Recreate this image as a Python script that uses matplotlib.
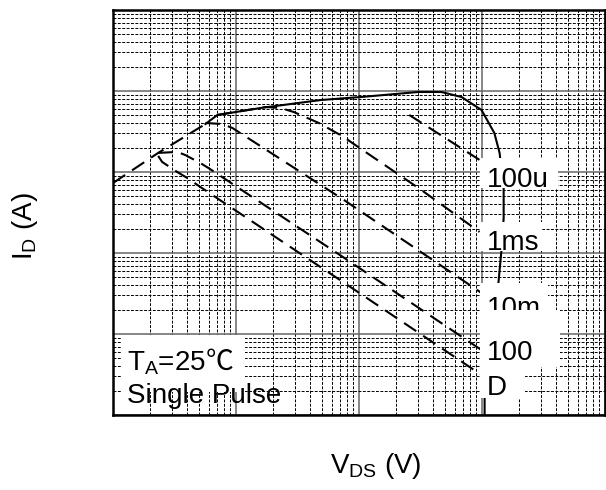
import matplotlib.pyplot as plt
from matplotlib.patches import Rectangle

plt.rcParams['font.family'] = ['Liberation Sans', 'DejaVu Sans']
plt.rcParams['mathtext.fontset'] = 'custom'
plt.rcParams['mathtext.rm'] = 'Liberation Sans'
plt.rcParams['mathtext.it'] = 'Liberation Sans'

# safe operating area, VDS in V, ID in A
rds_v = [0.01, 0.0233, 0.0564]
rds_i = [0.731, 1.72, 3.91]

# 100us limit including the breakdown edge
us100_v = [0.0564, 0.0706, 0.1585, 0.490, 1.038, 3.03, 4.67, 6.81, 9.91,
           12.6, 13.9, 15.0, 15.0, 14.4, 13.6, 12.6, 12.2, 10.5, 10.5]
us100_i = [3.91, 5.06, 6.17, 7.74, 8.43, 9.72, 9.72, 8.43, 5.83,
           3.03, 1.72, 0.634, 0.270, 0.109, 0.0427, 0.0198, 0.0122, 0.00162, 0.0009]

us100d_v = [2.56, 9.55]
us100d_i = [5.06, 1.41]

ms1_v = [0.0706, 0.174, 0.231, 0.295, 0.471, 0.755, 0.861, 3.21, 9.55]
ms1_i = [5.06, 6.34, 6.17, 5.50, 4.03, 2.70, 2.34, 0.600, 0.182]

ms10_v = [0.0564, 0.0776, 0.0936, 0.755, 9.91]
ms10_i = [4.03, 3.91, 3.49, 0.451, 0.0321]

ms100_v = [0.0233, 0.0333, 0.0387, 0.0513, 0.0597, 0.740, 9.91]
ms100_i = [1.72, 1.77, 1.62, 1.29, 1.12, 0.0893, 0.00634]

dc_v = [0.0233, 0.0251, 0.0333, 0.0402, 0.0513, 0.740, 9.91]
dc_i = [1.58, 1.33, 1.00, 0.843, 0.653, 0.0439, 0.00312]

labels = ['100u', '1ms', '10m', '100', 'D']
# label boxes in axes fraction, text baselines
box_x0 = [0.746, 0.746, 0.746, 0.746, 0.746]
box_x1 = [0.904, 0.872, 0.884, 0.908, 0.837]
box_y0 = [0.560, 0.405, 0.259, 0.119, 0.042]
box_y1 = [0.635, 0.477, 0.326, 0.259, 0.119]
base_y = [0.563, 0.407, 0.244, 0.136, 0.049]
text_x = 0.760

fig = plt.figure(figsize=(6.06, 4.90), dpi=100)
ax = fig.add_axes([113/606, 75/490, 492/606, 405/490])
ax.set_xscale('log')
ax.set_yscale('log')
ax.set_xlim(0.01, 100)
ax.set_ylim(0.001, 100)

ax.grid(which='major', color='#666666', lw=1.1, ls='-', zorder=0)
ax.grid(which='minor', color='black', lw=0.7, ls=(0, (3, 1.5)), zorder=0)
ax.tick_params(which='both', length=0, labelbottom=False, labelleft=False)
for s in ax.spines.values():
    s.set_linewidth(1.8)

dash = (0, (7, 4))
ax.plot(rds_v, rds_i, color='black', lw=1.5, ls=dash, zorder=3)
ax.plot(us100_v, us100_i, color='black', lw=1.5, ls='-', zorder=3)
ax.plot(us100d_v, us100d_i, color='black', lw=1.5, ls=dash, zorder=3)
ax.plot(ms1_v, ms1_i, color='black', lw=1.5, ls=dash, zorder=3)
ax.plot(ms10_v, ms10_i, color='black', lw=1.5, ls=dash, zorder=3)
ax.plot(ms100_v, ms100_i, color='black', lw=1.5, ls=dash, zorder=3)
ax.plot(dc_v, dc_i, color='black', lw=1.5, ls=dash, zorder=3)

for k, t in enumerate(labels):
    z = 5 + 2 * k
    ax.add_patch(Rectangle((box_x0[k], box_y0[k]), box_x1[k] - box_x0[k],
                           box_y1[k] - box_y0[k], transform=ax.transAxes,
                           fc='white', ec='none', zorder=z))
    ax.text(text_x, base_y[k], t, transform=ax.transAxes, fontsize=20,
            ha='left', va='baseline', zorder=z + 1)

ax.add_patch(Rectangle((0.018, 0.057), 0.25, 0.141, transform=ax.transAxes,
                       fc='white', ec='none', zorder=4))
ta = ax.text(0.028, 0.111, r'T$_\mathregular{A}$=25', transform=ax.transAxes,
             fontsize=20, va='baseline', zorder=5)
r = fig.canvas.get_renderer()
bb = ta.get_window_extent(r).transformed(ax.transAxes.inverted())
ax.text(bb.x1, 0.111, '℃', transform=ax.transAxes, fontsize=20,
        family='Noto Sans CJK SC', va='baseline', zorder=5)
ax.text(0.028, 0.030, 'Single Pulse', transform=ax.transAxes,
        fontsize=20, va='baseline', zorder=5)

fig.text(25/606, 1 - 226/490, r'I$_\mathregular{D}$ (A)', fontsize=20,
         rotation=90, ha='center', va='center')
fig.text(376/606, 1 - 466/490, r'V$_\mathregular{DS}$ (V)', fontsize=20,
         ha='center', va='center')

fig.savefig('out.png', dpi=100)
